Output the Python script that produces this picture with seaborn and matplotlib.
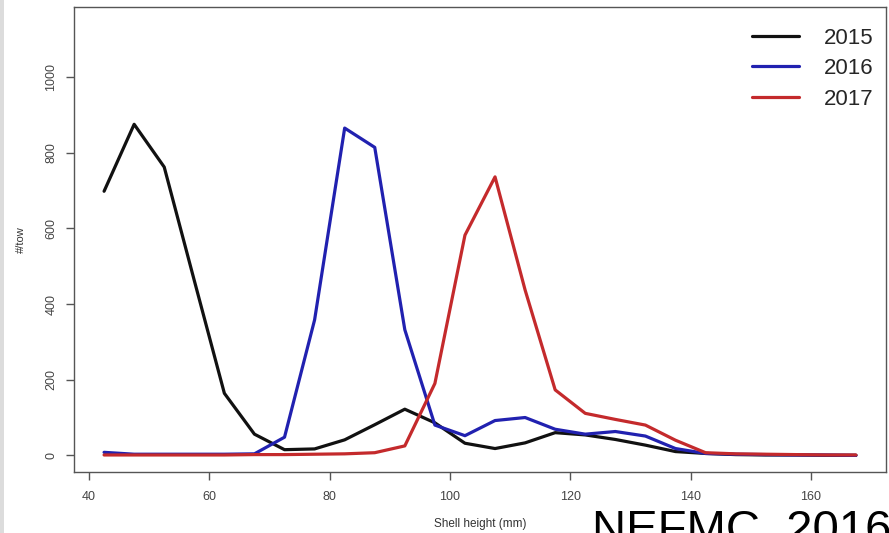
import pandas as pd
import seaborn as sns
import matplotlib.pyplot as plt
from matplotlib.patches import Rectangle

# Shell height bin centres (mm)
shell_height = [42.5, 47.5, 52.5, 57.5, 62.5, 67.5, 72.5, 77.5, 82.5, 87.5,
                92.5, 97.5, 102.5, 107.5, 112.5, 117.5, 122.5, 127.5, 132.5, 137.5,
                142.5, 147.5, 152.5, 157.5, 162.5, 167.5]

# Number per tow for each survey year
tow_2015 = [698, 875, 762, 462, 164, 56, 15, 17, 41, 81,
            122, 86, 32, 18, 33, 60, 54, 42, 27, 10,
            5, 2, 1, 1, 0, 0]
tow_2016 = [8, 3, 3, 3, 3, 4, 48, 358, 865, 814,
            332, 80, 52, 92, 100, 69, 56, 63, 51, 18,
            5, 3, 2, 1, 1, 0]
tow_2017 = [1, 1, 1, 1, 1, 2, 2, 3, 4, 7,
            25, 190, 582, 736, 437, 173, 111, 95, 80, 40,
            7, 4, 3, 2, 1, 1]

years = ["2015", "2016", "2017"]
colors = {"2015": "#111111", "2016": "#2121b0", "2017": "#c42a2c"}

df = pd.concat([
    pd.DataFrame({"height": shell_height, "count": vals, "year": yr})
    for yr, vals in zip(years, [tow_2015, tow_2016, tow_2017])
])

sns.set_style("white")
plt.rcParams["font.family"] = ["Liberation Sans", "DejaVu Sans"]

fig = plt.figure(figsize=(8.89, 5.33), dpi=100, facecolor="white")
# grey slide edge on the left
fig.patches.append(Rectangle((0, 0), 4 / 889, 1, transform=fig.transFigure,
                             facecolor="#dcdcdc", edgecolor="none", zorder=0))
ax = fig.add_axes([74 / 889, 61 / 533, 812 / 889, 465 / 533])

sns.lineplot(data=df, x="height", y="count", hue="year", palette=colors,
             linewidth=2.3, ax=ax, legend=False)

ax.set_xlim(37.5, 172.5)
ax.set_ylim(-44, 1185)
ax.set_xticks([40, 60, 80, 100, 120, 140, 160])
ax.set_yticks([0, 200, 400, 600, 800, 1000])

for side in ["top", "right", "bottom", "left"]:
    ax.spines[side].set_color("#555555")
    ax.spines[side].set_linewidth(1.0)
ax.tick_params(axis="both", direction="out", length=6, width=1,
               color="#555555", labelcolor="#444444", labelsize=9, pad=8,
               bottom=True, left=True)
ax.tick_params(axis="y", pad=6)
plt.setp(ax.get_yticklabels(), rotation=90, va="center")

ax.set_xlabel("Shell height (mm)", fontsize=8.5, color="#333333")
ax.set_ylabel("#/tow", fontsize=8, color="#333333")
ax.xaxis.set_label_coords(0.5, -0.099)
ax.yaxis.set_label_coords(-0.059, 0.5)

handles = [plt.Line2D([], [], color=colors[y], linewidth=2.3) for y in years]
fig.legend(handles, years, loc="upper right", frameon=False, fontsize=16,
           handlelength=2.1, handletextpad=1.1, labelspacing=0.42,
           bbox_to_anchor=(882 / 889, 1 - 19 / 533), borderaxespad=0)

fig.text(592 / 889, -10 / 533, "NEFMC, 2016", fontsize=34, color="black",
         ha="left", va="baseline")

fig.savefig("out.png", dpi=100)
